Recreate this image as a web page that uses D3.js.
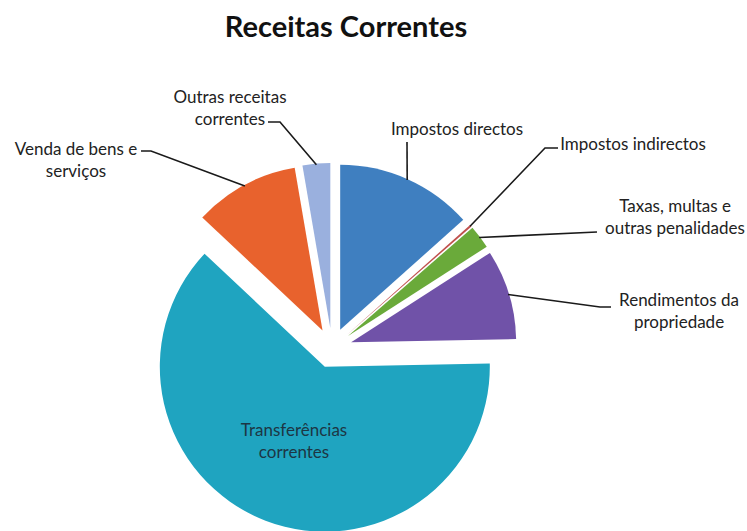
<!DOCTYPE html>
<html>
<head>
<meta charset="utf-8">
<script src="https://cdn.jsdelivr.net/npm/d3@7"></script>
<style>
  body { margin: 0; background: #fff; }
  svg { display: block; }
  text { font-family: Lato, "Open Sans", sans-serif; fill: #222; }
</style>
</head>
<body>
<div id="chart"></div>
<script>
// data (percent of total)
var categories = [
    "Impostos directos",
    "Impostos indirectos",
    "Taxas, multas e outras penalidades",
    "Rendimentos da propriedade",
    "Transferências correntes",
    "Venda de bens e serviços",
    "Outras receitas correntes"
];
var values = [13.4, 0.2, 2.3, 8.8, 62.3, 10.3, 2.7];
var labelLines = [
    ["Impostos directos"],
    ["Impostos indirectos"],
    ["Taxas, multas e", "outras penalidades"],
    ["Rendimentos da", "propriedade"],
    ["Transferências", "correntes"],
    ["Venda de bens e", "serviços"],
    ["Outras receitas", "correntes"]
];
var colors = ["#3f7fc0", "#c0504d", "#6aaa3a", "#7052a8", "#1fa4c0", "#e8622d", "#9ab0de"];

// layout
var svgWidth = 747, svgHeight = 531;
var cx = 332, cy = 348;
var radius = 165;
var explode = 20;

// label layout: x/y = centre and first baseline, leader = points from the label towards the slice
var labelLayout = [
    { x: 457, y: 135, leader: [[407, 142]] },
    { x: 633, y: 150, leader: [[558, 148], [545, 148]] },
    { x: 675, y: 212, leader: [[597, 232]] },
    { x: 679, y: 306, leader: [[611, 307], [600, 307]] },
    { x: 294, y: 436, inside: true },
    { x: 76, y: 155, leader: [[141, 151], [151, 151]] },
    { x: 230, y: 103, leader: [[268, 122], [280, 122]] }
];

var svg = d3.select("#chart")
    .append("svg")
    .attr("width", svgWidth)
    .attr("height", svgHeight);

svg.append("text")
    .attr("x", 346)
    .attr("y", 37)
    .attr("text-anchor", "middle")
    .style("font-size", "29px")
    .style("font-weight", "bold")
    .style("fill", "#111")
    .text("Receitas Correntes");

var pie = d3.pie().sort(null).value(function(d) { return d; });
var arcs = pie(values);

var arc = d3.arc().innerRadius(0).outerRadius(radius);

var g = svg.append("g").attr("transform", "translate(" + cx + "," + cy + ")");

function midAngle(d) { return (d.startAngle + d.endAngle) / 2; }

g.selectAll("path.slice")
    .data(arcs)
    .enter()
    .append("path")
    .attr("class", "slice")
    .attr("d", arc)
    .attr("fill", function(d, i) { return colors[i]; })
    .attr("transform", function(d) {
        var a = midAngle(d);
        return "translate(" + (explode * Math.sin(a)) + "," + (-explode * Math.cos(a)) + ")";
    });

// leader lines
var line = d3.line();
arcs.forEach(function(d, i) {
    var lay = labelLayout[i];
    if (lay.inside) return;
    var a = midAngle(d);
    var rr = radius + explode - 1;
    var end = [cx + rr * Math.sin(a), cy - rr * Math.cos(a)];
    var pts = lay.leader.concat([end]);
    svg.append("path")
        .attr("d", line(pts))
        .attr("fill", "none")
        .attr("stroke", "#1a1a1a")
        .attr("stroke-width", 1.6);
});

// labels
labelLines.forEach(function(lines, i) {
    var lay = labelLayout[i];
    var t = svg.append("text")
        .attr("text-anchor", "middle")
        .style("font-size", "17px")
        .style("fill", lay.inside ? "#1d3644" : "#222");
    lines.forEach(function(s, k) {
        t.append("tspan")
            .attr("x", lay.x)
            .attr("y", lay.y + k * 22)
            .text(s);
    });
});
</script>
</body>
</html>
